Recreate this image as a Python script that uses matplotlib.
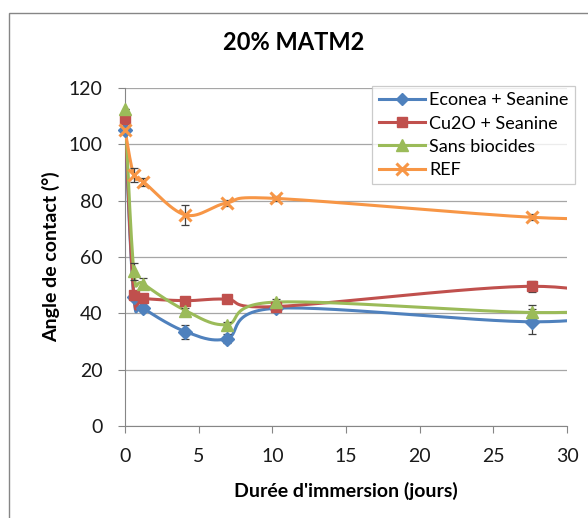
import numpy as np
import matplotlib
matplotlib.use("Agg")
from matplotlib import pyplot as plt
from matplotlib.patches import Rectangle

plt.rcParams['font.family'] = ['Lato', 'DejaVu Sans']

# Data (days, contact angle in degrees)
days = [0, 0.6, 1.25, 4.1, 6.9, 10.25, 27.6]
econea = [105, 45.9, 41.8, 33.5, 31.0, 41.8, 37.0]
cu2o = [109, 46.5, 45.3, 44.5, 45.0, 42.4, 49.6]
sans = [112.5, 55.0, 50.5, 41.0, 36.0, 44.0, 40.3]
ref = [105, 89.0, 86.7, 74.9, 79.2, 80.8, 74.1]

econea_err = [0, 1.0, 1.0, 2.5, 1.5, 1.0, 4.5]
cu2o_err = [0, 1.0, 1.0, 1.0, 1.0, 1.0, 2.0]
sans_err = [0, 3.0, 2.0, 1.0, 1.0, 1.0, 2.5]
ref_err = [0, 2.5, 1.5, 3.5, 1.0, 1.0, 1.0]

# last measurement lies beyond the axis range (lines are clipped at 30)
extra_day = 35
econea_extra = 41.0
cu2o_extra = 43.0
sans_extra = 42.0
ref_extra = 74.0


def smooth(x, y, n=30):
    # Catmull-Rom spline in screen-like units, as Excel "smoothed line"
    sx, sy = 14.73, 2.817
    p = np.column_stack([np.array(x) * sx, np.array(y) * sy])
    p = np.vstack([p[0], p, p[-1]])
    out = []
    for i in range(1, len(p) - 2):
        p0, p1, p2, p3 = p[i - 1], p[i], p[i + 1], p[i + 2]
        t = np.linspace(0, 1, n)[:, None]
        c = 0.5 * ((2 * p1) + (-p0 + p2) * t + (2 * p0 - 5 * p1 + 4 * p2 - p3) * t ** 2
                   + (-p0 + 3 * p1 - 3 * p2 + p3) * t ** 3)
        out.append(c)
    out = np.vstack(out)
    return out[:, 0] / sx, out[:, 1] / sy


fig = plt.figure(figsize=(5.88, 5.18), dpi=100)
ax = fig.add_axes([0.2126, 0.1776, 0.7517, 0.6525])

series = [
    ("Econea + Seanine", econea, econea_err, econea_extra, "#4F81BD", "D", 7),
    ("Cu2O + Seanine", cu2o, cu2o_err, cu2o_extra, "#C0504D", "s", 7.5),
    ("Sans biocides", sans, sans_err, sans_extra, "#9BBB59", "^", 9),
    ("REF", ref, ref_err, ref_extra, "#F79646", "x", 9),
]

handles = []
for name, vals, err, extra, col, mk, ms in series:
    xs, ys = smooth(days + [extra_day], vals + [extra])
    ax.plot(xs, ys, color=col, lw=2.2, zorder=3)
    ax.errorbar(days, vals, yerr=err, fmt='none', ecolor='#404040', elinewidth=0.9,
                capsize=3, capthick=0.9, zorder=4)
    if mk == "x":
        ax.plot(days, vals, ls='none', marker=mk, ms=ms, mew=2.2, color=col,
                zorder=5, clip_on=False)
    else:
        ax.plot(days, vals, ls='none', marker=mk, ms=ms, mfc=col, mec=col,
                zorder=5, clip_on=False)
    h, = ax.plot([], [], color=col, lw=2.2, marker=mk, ms=ms - 1,
                 mew=2.2 if mk == "x" else 1, label=name)
    handles.append(h)

ax.set_xlim(0, 30)
ax.set_ylim(0, 120)
ax.set_xticks(range(0, 31, 5))
ax.set_yticks(range(0, 121, 20))
ax.yaxis.grid(True, color='#A6A6A6', lw=0.9)
ax.set_axisbelow(True)
for s in ['top', 'right']:
    ax.spines[s].set_visible(False)
for s in ['left', 'bottom']:
    ax.spines[s].set_color('#868686')
ax.tick_params(axis='both', colors='#868686', labelcolor='#1a1a1a', labelsize=14,
               length=5, direction='out', pad=11)

ax.set_xlabel("Durée d'immersion (jours)", fontsize=14, fontweight='bold', labelpad=12)
ax.set_ylabel("Angle de contact (°)", fontsize=14, fontweight='bold', labelpad=6)
fig.text(0.5, 0.917, "20% MATM2", ha='center', va='center', fontsize=17, fontweight='bold')

leg = fig.legend(handles=handles, loc='upper left', bbox_to_anchor=(0.633, 0.834),
                 frameon=True, fancybox=False, fontsize=13, handlelength=2.6,
                 handletextpad=0.2, borderpad=0.35, labelspacing=0.4,
                 borderaxespad=0)
leg.get_frame().set_edgecolor('#BFBFBF')
leg.get_frame().set_linewidth(0.9)

fig.patches.append(Rectangle((9 / 588, -0.1), 1.2, 1.1 - 13 / 518,
                             transform=fig.transFigure,
                             fill=False, edgecolor='#868686', lw=1))

fig.savefig("out.png", dpi=100)
